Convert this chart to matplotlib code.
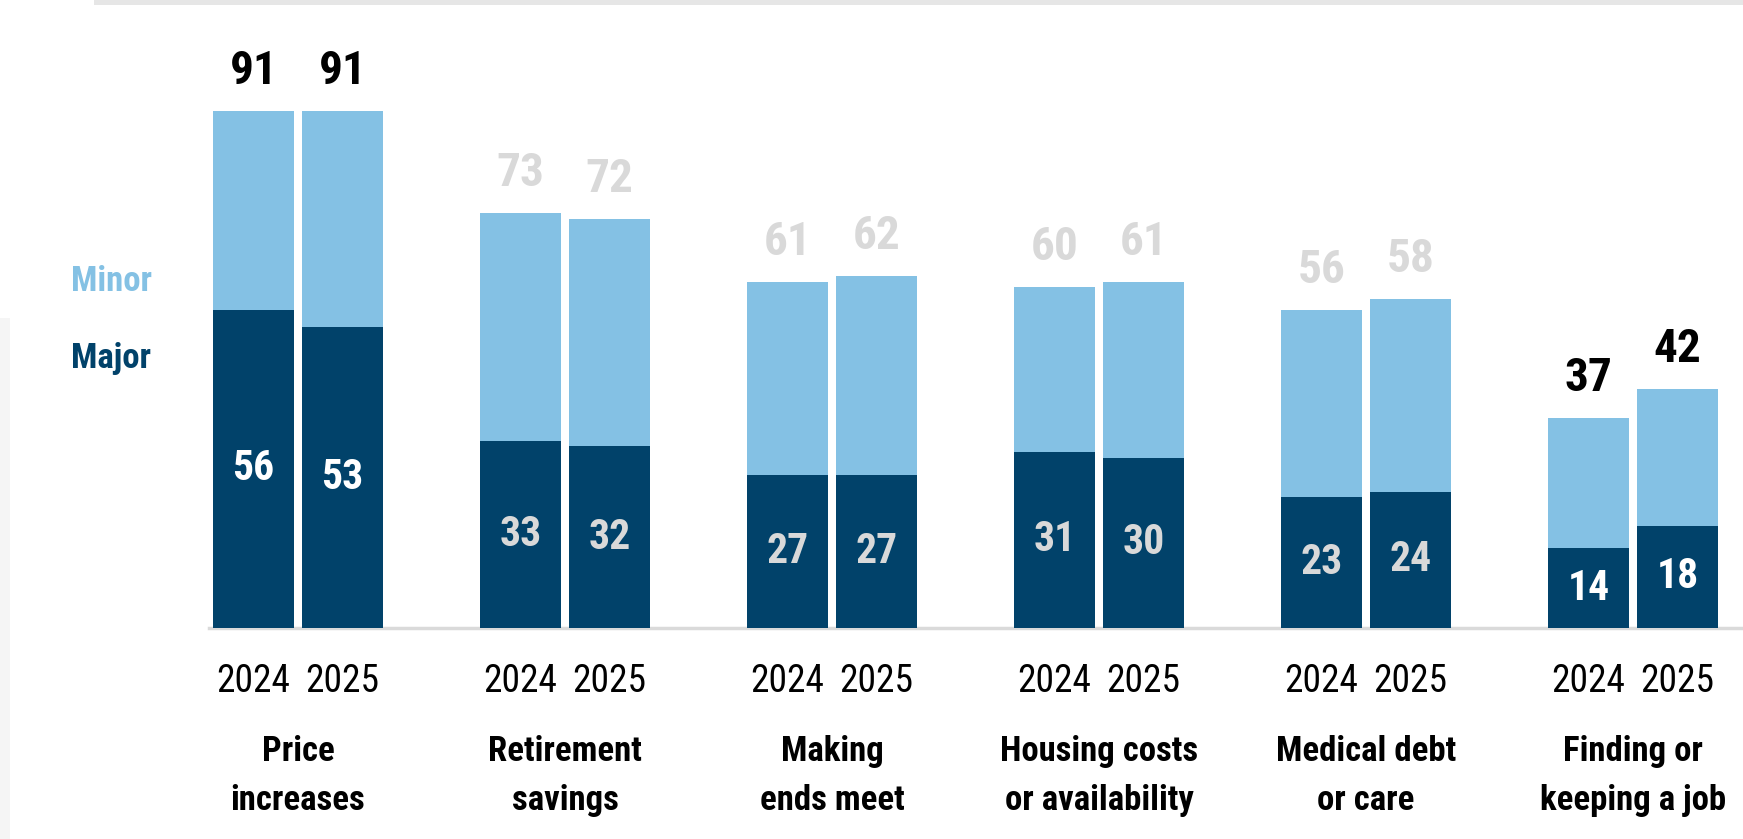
import matplotlib
matplotlib.use("Agg")
import matplotlib.pyplot as plt
from matplotlib.patches import Rectangle
import numpy as np

# Share of people naming each issue as a source of financial stress (%)
categories = ["Price\nincreases", "Retirement\nsavings", "Making\nends meet",
              "Housing costs\nor availability", "Medical debt\nor care",
              "Finding or\nkeeping a job"]
years = ["2024", "2025"]
major_2024 = [56, 33, 27, 31, 23, 14]
major_2025 = [53, 32, 27, 30, 24, 18]
total_2024 = [91, 73, 61, 60, 56, 37]
total_2025 = [91, 72, 62, 61, 58, 42]
highlighted = [0, 5]

LIGHT = "#84C1E4"
DARK = "#01426A"
GREY_TXT = "#D9D9D9"
FONT = ["Liberation Sans Narrow", "Roboto Condensed", "DejaVu Sans"]

W, H = 1743, 839
fig = plt.figure(figsize=(W / 100, H / 100), dpi=100)
ax = fig.add_axes([0, 0, 1, 1])
ax.axis("off")

# pixel layout -> data limits
group_px = 267.0
first_center_px = 298.0
base_px = 628.0
unit_px = 5.68
ax.set_xlim(-first_center_px / group_px, (W - first_center_px) / group_px)
ax.set_ylim(-(H - base_px) / unit_px, base_px / unit_px)

# thin page decorations
fig.patches.append(Rectangle((94 / W, 1 - 5 / H), 1, 5 / H, transform=fig.transFigure,
                             color="#E6E6E6", lw=0, zorder=0))
fig.patches.append(Rectangle((0, 0), 10 / W, 1 - 318 / H, transform=fig.transFigure,
                             color="#F5F5F5", lw=0, zorder=0))

x = np.arange(len(categories))
bw = 81 / group_px
off = 44.5 / group_px

series = [(major_2024, total_2024, -off), (major_2025, total_2025, off)]
for j, (major, total, dx) in enumerate(series):
    major = np.array(major)
    total = np.array(total)
    minor = total - major
    xs = x + dx
    ax.bar(xs, major, width=bw, color=DARK, zorder=2)
    ax.bar(xs, minor, width=bw, bottom=major, color=LIGHT, zorder=2)
    for i in range(len(categories)):
        hl = i in highlighted
        ax.text(xs[i], major[i] / 2, f"{major[i]}", ha="center", va="center",
                fontsize=30, fontweight="bold", family=FONT,
                color="white" if hl else GREY_TXT, zorder=3)
        ax.text(xs[i], total[i] + 40 / unit_px, f"{total[i]}", ha="center", va="center",
                fontsize=34, fontweight="bold", family=FONT,
                color="black" if hl else GREY_TXT, zorder=3)
        ax.text(xs[i], -(681 - base_px) / unit_px, years[j], ha="center", va="center",
                fontsize=27, family=FONT, color="black")

for i, cat in enumerate(categories):
    ax.text(x[i], -(776 - base_px) / unit_px, cat, ha="center", va="center",
            fontsize=25, fontweight="bold", family=FONT, color="black",
            linespacing=1.6)

# baseline
ax.axhline(0, xmin=209 / W, xmax=1.0, color="#DADADA", lw=2.5, zorder=1)

# legend labels
fig.text(71 / W, 1 - 291 / H, "Minor", ha="left", va="baseline", fontsize=25,
         fontweight="bold", family=FONT, color=LIGHT)
fig.text(71 / W, 1 - 368 / H, "Major", ha="left", va="baseline", fontsize=25,
         fontweight="bold", family=FONT, color=DARK)

fig.savefig("out.png", dpi=100)
